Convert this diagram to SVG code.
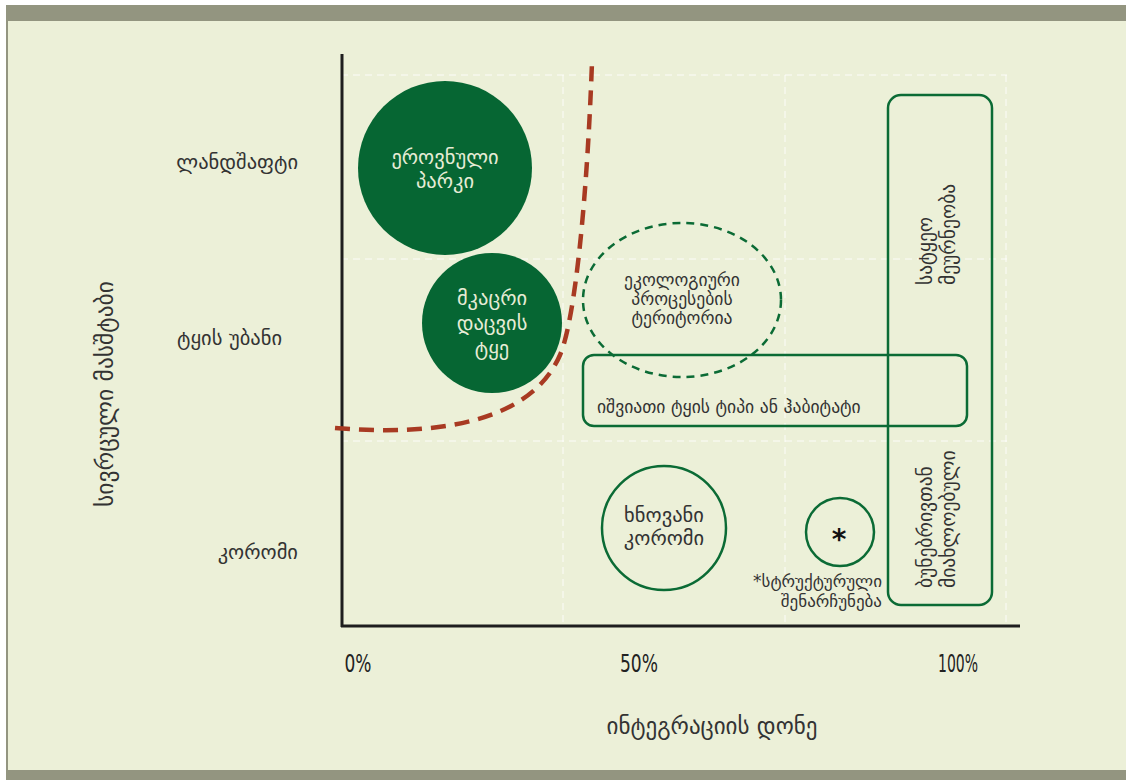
<svg xmlns="http://www.w3.org/2000/svg" width="1126" height="780" viewBox="0 0 1126 780">
<style>
.t{font-family:"DejaVu Sans","Noto Sans Georgian",sans-serif;fill:#333}
.lbl{font-size:20.5px}
.in{font-size:20.5px;fill:#E6ECD6;text-anchor:middle}
.dk{font-size:20.5px;text-anchor:middle}
.sm{font-size:17.6px}
.rot{font-size:19.5px}
.pc{font-family:"DejaVu Sans Condensed","Liberation Sans Narrow","DejaVu Sans",sans-serif;font-size:24px;fill:#222;text-anchor:middle}
.grid{stroke:#ffffff;stroke-width:1;stroke-dasharray:7 5;opacity:0.85;fill:none}
.ol{fill:none;stroke:#0B6B35;stroke-width:2.5}
.fill{fill:#066633}
</style>
<rect x="0" y="0" width="1126" height="780" fill="#ffffff"/>
<rect x="6" y="5" width="1120" height="775" fill="#ECF0D8"/>
<rect x="6" y="5" width="2" height="775" fill="#939580"/>
<rect x="6" y="5" width="1120" height="16" fill="#939580"/>
<rect x="6" y="770" width="1120" height="10" fill="#939580"/>

<g id="grid">
<line class="grid" x1="341" y1="75" x2="1007" y2="75"/>
<line class="grid" x1="341" y1="259" x2="1007" y2="259"/>
<line class="grid" x1="341" y1="441" x2="1007" y2="441"/>
<line class="grid" x1="563" y1="75" x2="563" y2="626"/>
<line class="grid" x1="785" y1="75" x2="785" y2="626"/>
<line class="grid" x1="1006" y1="75" x2="1006" y2="626"/>
</g>

<g id="axes" stroke="#1E1E1E" stroke-width="3" fill="none">
<line x1="342" y1="54" x2="342" y2="627"/>
<line x1="341" y1="626" x2="1020" y2="626"/>
</g>

<g id="axis-labels">
<text class="t lbl" x="298" y="169" text-anchor="end">ლანდშაფტი</text>
<text class="t lbl" x="282" y="345" text-anchor="end">ტყის უბანი</text>
<text class="t lbl" x="298" y="559" text-anchor="end">კორომი</text>
<text class="t" font-size="23.5" x="0" y="0" text-anchor="middle" transform="translate(113,394) rotate(-90)">სივრცული მასშტაბი</text>
<text class="pc" x="358" y="672" textLength="27" lengthAdjust="spacingAndGlyphs">0%</text>
<text class="pc" x="639" y="672" textLength="38" lengthAdjust="spacingAndGlyphs">50%</text>
<text class="pc" x="958" y="672" textLength="40" lengthAdjust="spacingAndGlyphs">100%</text>
<text class="t" font-size="23" x="712" y="734" text-anchor="middle">ინტეგრაციის დონე</text>
</g>

<g id="node-national-park">
<circle class="fill" cx="445" cy="168" r="87"/>
<text class="t in" x="445" y="164">ეროვნული</text>
<text class="t in" x="445" y="188">პარკი</text>
</g>

<g id="node-strict-forest">
<circle class="fill" cx="492" cy="323" r="70"/>
<text class="t in" x="492" y="305">მკაცრი</text>
<text class="t in" x="492" y="330">დაცვის</text>
<text class="t in" x="492" y="355">ტყე</text>
</g>

<g id="node-eco-processes">
<ellipse cx="682" cy="300" rx="99" ry="77" fill="none" stroke="#0B6B35" stroke-width="2.5" stroke-dasharray="8 6"/>
<text class="t sm" x="682" y="286" text-anchor="middle">ეკოლოგიური</text>
<text class="t sm" x="682" y="305" text-anchor="middle">პროცესების</text>
<text class="t sm" x="682" y="324" text-anchor="middle">ტერიტორია</text>
</g>

<g id="node-rare-habitat">
<rect class="ol" x="583" y="355" width="384" height="71" rx="11"/>
<text class="t sm" x="597" y="413">იშვიათი ტყის ტიპი ან ჰაბიტატი</text>
</g>

<g id="node-forestry">
<rect class="ol" x="888" y="95" width="104" height="510" rx="13"/>
<text class="t rot" transform="translate(932,285) rotate(-90)">სატყეო</text>
<text class="t rot" transform="translate(955,285) rotate(-90)">მეურნეობა</text>
<text class="t rot" transform="translate(932,588) rotate(-90)">ბუნებრივთან</text>
<text class="t rot" transform="translate(955,588) rotate(-90)">მიახლოებული</text>
</g>

<g id="node-old-stand">
<circle class="ol" cx="664" cy="528" r="62"/>
<text class="t dk" x="664" y="522">ხნოვანი</text>
<text class="t dk" x="664" y="545">კორომი</text>
</g>

<g id="node-structural">
<circle class="ol" cx="840" cy="532" r="34"/>
<text x="839" y="549" font-family="DejaVu Sans,sans-serif" font-size="28" font-weight="bold" fill="#111" text-anchor="middle">*</text>
<text class="t" font-size="17" x="882" y="587" text-anchor="end">*სტრუქტურული</text>
<text class="t" font-size="17" x="882" y="607" text-anchor="end">შენარჩუნება</text>
</g>

<g id="connectors">
<path d="M335,428 C430,436 530,425 560,355 C575,320 587,200 592,62" fill="none" stroke="#A83A22" stroke-width="4.5" stroke-dasharray="15 9"/>
</g>
</svg>
